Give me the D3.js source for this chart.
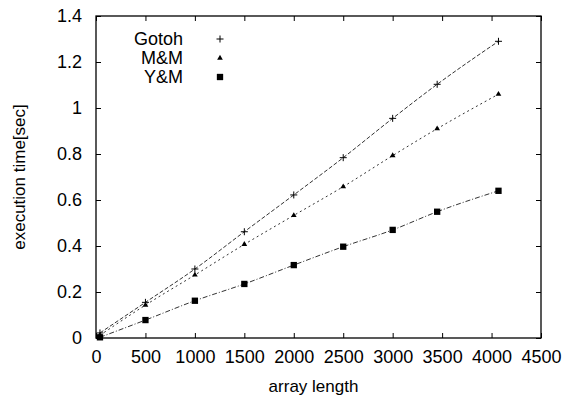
<!DOCTYPE html>
<html>
<head>
<meta charset="utf-8">
<script src="https://cdn.jsdelivr.net/npm/d3@7"></script>
<style>
  body { margin: 0; background: #fff; }
  text { font-family: "Liberation Sans", Arial, sans-serif; }
</style>
</head>
<body>
<div id="chart"></div>
<script>
// Data
const arrayLength = [40, 500, 1000, 1500, 2000, 2500, 3000, 3450, 4070];
const gotoh = [0.022, 0.155, 0.300, 0.462, 0.622, 0.784, 0.955, 1.103, 1.290];
const mm    = [0.012, 0.143, 0.274, 0.407, 0.533, 0.658, 0.793, 0.910, 1.060];
const ym    = [0.003, 0.078, 0.162, 0.235, 0.317, 0.397, 0.470, 0.549, 0.640];
const seriesNames = ['Gotoh', 'M&M', 'Y&M'];
const xTicks = [0, 500, 1000, 1500, 2000, 2500, 3000, 3500, 4000, 4500];
const yTicks = [0, 0.2, 0.4, 0.6, 0.8, 1, 1.2, 1.4];

const width = 566;
const height = 398;
const margin = { top: 16, right: 25, bottom: 60, left: 96 };
const plotW = width - margin.left - margin.right;
const plotH = height - margin.top - margin.bottom;

const svg = d3.select('#chart').append('svg')
  .attr('width', width)
  .attr('height', height);

const g = svg.append('g')
  .attr('transform', `translate(${margin.left},${margin.top})`);

const x = d3.scaleLinear().domain([0, 4500]).range([0, plotW]);
const y = d3.scaleLinear().domain([0, 1.4]).range([plotH, 0]);

// ticks on all four sides, pointing inward (gnuplot style)
const tickLen = 5;
g.append('g')
  .attr('transform', `translate(0,${plotH})`)
  .call(d3.axisBottom(x).tickValues(xTicks).tickFormat(d3.format('d')).tickSizeInner(-tickLen).tickSizeOuter(0).tickPadding(12))
  .call(a => a.select('.domain').remove());
g.append('g')
  .call(d3.axisTop(x).tickValues(xTicks).tickFormat('').tickSizeInner(-tickLen).tickSizeOuter(0))
  .call(a => a.select('.domain').remove());
g.append('g')
  .call(d3.axisLeft(y).tickValues(yTicks).tickFormat(d => d3.format('')(+d.toFixed(1))).tickSizeInner(-tickLen).tickSizeOuter(0).tickPadding(14))
  .call(a => a.select('.domain').remove());
g.append('g')
  .attr('transform', `translate(${plotW},0)`)
  .call(d3.axisRight(y).tickValues(yTicks).tickFormat('').tickSizeInner(-tickLen).tickSizeOuter(0))
  .call(a => a.select('.domain').remove());

g.selectAll('.tick text')
  .style('font-size', '18px')
  .style('font-family', '"Liberation Sans", Arial, sans-serif')
  .attr('fill', '#000');
g.selectAll('.tick line').attr('stroke', '#000');

g.append('rect')
  .attr('width', plotW)
  .attr('height', plotH)
  .attr('fill', 'none')
  .attr('stroke', '#000')
  .attr('stroke-width', 1.3);

// series
const series = [
  { name: seriesNames[0], values: gotoh, dash: '4,2', symbol: d3.symbolCross, size: 34, cross: true },
  { name: seriesNames[1], values: mm, dash: '2,3', symbol: d3.symbolTriangle, size: 14 },
  { name: seriesNames[2], values: ym, dash: '5,2,1,2', symbol: d3.symbolSquare, size: 40 }
];

const line = d3.line()
  .x((d, i) => x(arrayLength[i]))
  .y(d => y(d))
  .curve(d3.curveMonotoneX);

series.forEach(s => {
  g.append('path')
    .datum(s.values)
    .attr('d', line)
    .attr('fill', 'none')
    .attr('stroke', '#333')
    .attr('stroke-width', 1)
    .attr('stroke-dasharray', s.dash);
});

function drawMark(sel, s, cx, cy) {
  if (s.cross) {
    // thin plus sign
    const r = 3.5;
    sel.append('path')
      .attr('d', `M${cx - r},${cy}H${cx + r}M${cx},${cy - r}V${cy + r}`)
      .attr('stroke', '#000')
      .attr('stroke-width', 1);
  } else {
    sel.append('path')
      .attr('d', d3.symbol().type(s.symbol).size(s.size)())
      .attr('transform', `translate(${cx},${cy})`)
      .attr('fill', '#000');
  }
}

series.forEach(s => {
  s.values.forEach((v, i) => drawMark(g, s, x(arrayLength[i]), y(v)));
});

// legend
const legend = svg.append('g');
series.forEach((s, i) => {
  const ly = 45 + i * 19;
  legend.append('text')
    .attr('x', 183)
    .attr('y', ly)
    .attr('text-anchor', 'end')
    .style('font-size', '18px')
    .text(s.name);
  drawMark(legend, s, 220, ly - 6);
});

// axis titles
svg.append('text')
  .attr('x', margin.left + plotW / 2 - 5)
  .attr('y', 392)
  .attr('text-anchor', 'middle')
  .style('font-size', '17px')
  .text('array length');

svg.append('text')
  .attr('transform', `translate(25,${margin.top + plotH / 2}) rotate(-90)`)
  .attr('text-anchor', 'middle')
  .style('font-size', '17px')
  .text('execution time[sec]');
</script>
</body>
</html>
